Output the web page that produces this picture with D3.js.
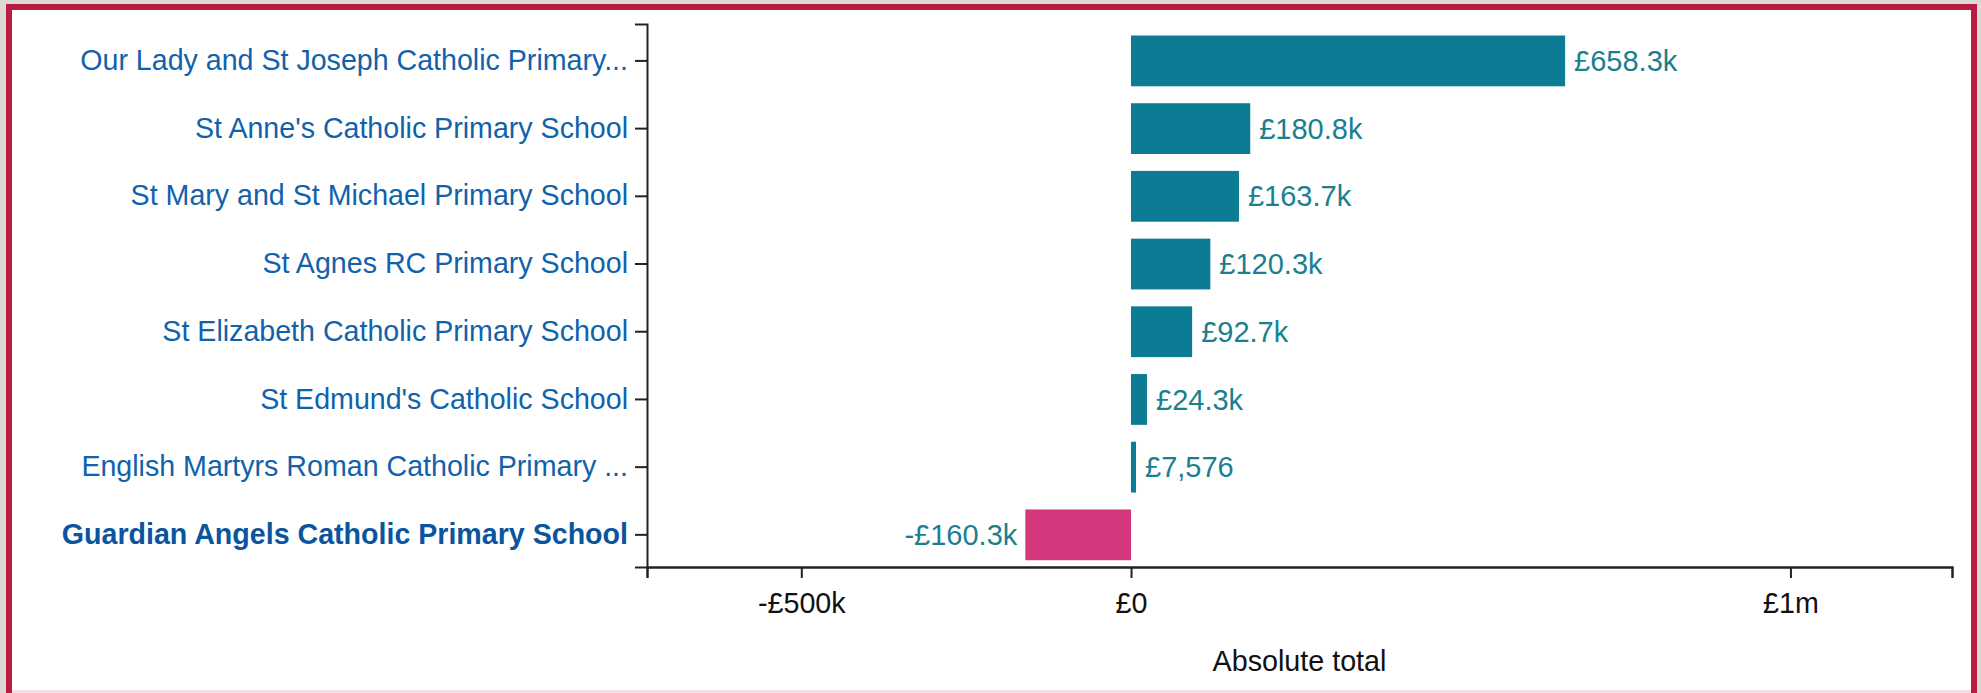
<!DOCTYPE html>
<html>
<head>
<meta charset="utf-8">
<script src="https://cdn.jsdelivr.net/npm/d3@7"></script>
<style>
  body { margin: 0; background: #dcd9d4; overflow: hidden; font-family: "Liberation Sans", Arial, sans-serif; }
  #frame { position: absolute; left: 6px; top: 4px; width: 1959px; height: 720px; background: #fff; border: 6px solid #b91c41; }
  #chart { position: absolute; left: 0; top: 0; }
</style>
</head>
<body>
<div id="frame"></div>
<div id="chart"></div>
<script>
// schools, top to bottom
const schools = [
  "Our Lady and St Joseph Catholic Primary...",
  "St Anne's Catholic Primary School",
  "St Mary and St Michael Primary School",
  "St Agnes RC Primary School",
  "St Elizabeth Catholic Primary School",
  "St Edmund's Catholic School",
  "English Martyrs Roman Catholic Primary ...",
  "Guardian Angels Catholic Primary School"
];
const totals = [658300, 180800, 163700, 120300, 92700, 24300, 7576, -160300];
const highlighted = "Guardian Angels Catholic Primary School";
const xTicks = [-500000, 0, 1000000];
const xTickLabels = ["-£500k", "£0", "£1m"];

const data = schools.map((s, i) => ({school: s, total: totals[i]}));

let width = 1981, height = 693;

let svg = d3.select("#chart")
    .append("svg")
    .attr("width", width)
    .attr("height", height)
    .style("font-family", "'Liberation Sans', Arial, sans-serif");

// faint line along the bottom of the frame
svg.append("rect")
    .attr("x", 12).attr("y", 690)
    .attr("width", 1959).attr("height", 3)
    .style("fill", "#f6dce5");

let x = d3.scaleLinear()
    .domain([-734000, 1245000])
    .range([647, 1952]);

let y = d3.scaleBand()
    .domain(schools)
    .range([24, 567])
    .paddingInner(0.25)
    .paddingOuter(0.135)
    .align(0.63);

let fmt = function(v) {
    let sign = v < 0 ? "-" : "";
    let a = Math.abs(v);
    if (a >= 10000) return sign + "£" + (a / 1000).toFixed(1) + "k";
    return sign + "£" + d3.format(",")(a);
};

// bars
svg.append("g")
    .selectAll("rect")
    .data(data)
    .enter()
    .append("rect")
    .attr("x", d => x(Math.min(0, d.total)))
    .attr("y", d => y(d.school))
    .attr("width", d => Math.abs(x(d.total) - x(0)))
    .attr("height", y.bandwidth())
    .style("fill", d => d.total < 0 ? "#d4377b" : "#0b7c93");

// value labels
svg.append("g")
    .selectAll("text")
    .data(data)
    .enter()
    .append("text")
    .attr("x", d => d.total < 0 ? x(d.total) - 8 : x(d.total) + 9)
    .attr("y", d => y(d.school) + y.bandwidth() / 2)
    .attr("dy", "0.35em")
    .attr("text-anchor", d => d.total < 0 ? "end" : "start")
    .style("font-size", "29px")
    .style("fill", "#1a7f8f")
    .text(d => fmt(d.total));

// x axis
let xAxis = svg.append("g")
    .attr("transform", "translate(0,567)")
    .call(d3.axisBottom(x)
        .tickValues(xTicks)
        .tickFormat((d, i) => xTickLabels[i])
        .tickSize(11)
        .tickPadding(15));
xAxis.select(".domain").attr("stroke", "#222").attr("stroke-width", 2.5);
xAxis.selectAll(".tick line").attr("stroke", "#222").attr("stroke-width", 2);
xAxis.selectAll(".tick text")
    .style("font-size", "28.7px")
    .style("font-family", "'Liberation Sans', Arial, sans-serif")
    .style("fill", "#111");

svg.append("text")
    .attr("x", (647 + 1952) / 2)
    .attr("y", 671)
    .attr("text-anchor", "middle")
    .style("font-size", "28.7px")
    .style("fill", "#111")
    .text("Absolute total");

// y axis
let yAxis = svg.append("g")
    .attr("transform", "translate(647,0)")
    .call(d3.axisLeft(y).tickSize(12).tickPadding(7));
yAxis.select(".domain").attr("stroke", "#222").attr("stroke-width", 2);
yAxis.selectAll(".tick line").attr("stroke", "#222").attr("stroke-width", 2);
yAxis.selectAll(".tick text")
    .style("font-size", "28.6px")
    .style("font-family", "'Liberation Sans', Arial, sans-serif")
    .style("fill", d => d === highlighted ? "#0a559e" : "#1062ab")
    .style("font-weight", d => d === highlighted ? "bold" : "normal");
</script>
</body>
</html>
